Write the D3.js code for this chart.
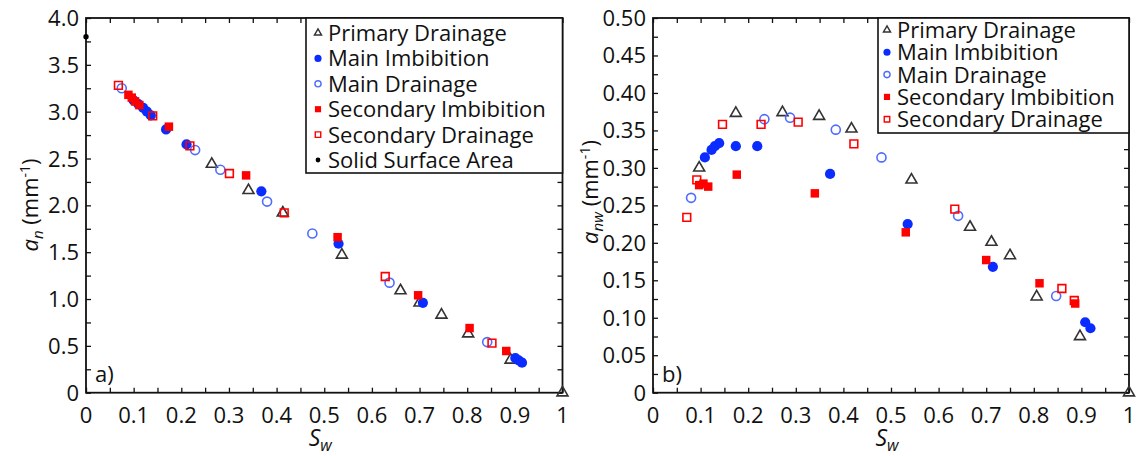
<!DOCTYPE html>
<html>
<head>
<meta charset="utf-8">
<script src="https://cdn.jsdelivr.net/npm/d3@7"></script>
<style>
  body { margin: 0; background: #fff; }
  text { font-family: "Open Sans", "Noto Sans", sans-serif; fill: #111; }
</style>
</head>
<body>
<div id="chart-area"></div>
<script>
// values, [Sw, value]
const primaryDrainageA = [[0.264, 2.44], [0.341, 2.16], [0.413, 1.92], [0.537, 1.47], [0.660, 1.09],
    [0.700, 0.96], [0.746, 0.83], [0.802, 0.63], [0.891, 0.35], [1.0, 0.0]];
const mainImbibitionA = [[0.100, 3.12], [0.110, 3.08], [0.120, 3.04], [0.128, 3.00], [0.136, 2.96],
    [0.168, 2.81], [0.211, 2.65], [0.368, 2.15], [0.530, 1.59], [0.707, 0.96],
    [0.901, 0.37], [0.908, 0.345], [0.915, 0.32]];
const mainDrainageA = [[0.075, 3.25], [0.229, 2.59], [0.282, 2.38], [0.380, 2.04], [0.475, 1.70],
    [0.637, 1.175], [0.842, 0.54]];
const secondaryImbibitionA = [[0.089, 3.18], [0.096, 3.15], [0.103, 3.11], [0.112, 3.07], [0.174, 2.84],
    [0.336, 2.32], [0.528, 1.66], [0.697, 1.04], [0.805, 0.69], [0.882, 0.445]];
const secondaryDrainageA = [[0.068, 3.28], [0.140, 2.955], [0.218, 2.635], [0.301, 2.34], [0.416, 1.92],
    [0.628, 1.24], [0.852, 0.53]];
const solidSurfaceA = [[0.0, 3.80]];

const primaryDrainageB = [[0.097, 0.300], [0.174, 0.373], [0.272, 0.374], [0.349, 0.369], [0.417, 0.352],
    [0.543, 0.284], [0.666, 0.221], [0.711, 0.201], [0.750, 0.183], [0.806, 0.128],
    [0.897, 0.075], [1.0, 0.0]];
const mainImbibitionB = [[0.109, 0.314], [0.123, 0.324], [0.130, 0.329], [0.139, 0.333], [0.174, 0.329],
    [0.219, 0.329], [0.372, 0.292], [0.535, 0.225], [0.714, 0.168], [0.908, 0.094], [0.919, 0.086]];
const mainDrainageB = [[0.080, 0.260], [0.234, 0.365], [0.288, 0.367], [0.384, 0.351], [0.480, 0.314],
    [0.641, 0.236], [0.847, 0.129]];
const secondaryImbibitionB = [[0.097, 0.277], [0.106, 0.279], [0.116, 0.275], [0.176, 0.291], [0.340, 0.266],
    [0.531, 0.214], [0.700, 0.177], [0.812, 0.146], [0.887, 0.119]];
const secondaryDrainageB = [[0.071, 0.234], [0.092, 0.284], [0.146, 0.358], [0.227, 0.358], [0.305, 0.361],
    [0.422, 0.332], [0.634, 0.245], [0.859, 0.139], [0.885, 0.123]];

const xTickLabels = ["0", "0.1", "0.2", "0.3", "0.4", "0.5", "0.6", "0.7", "0.8", "0.9", "1"];
const yTickLabelsA = ["0", "0.5", "1.0", "1.5", "2.0", "2.5", "3.0", "3.5", "4.0"];
const yTickLabelsB = ["0", "0.05", "0.10", "0.15", "0.20", "0.25", "0.30", "0.35", "0.40", "0.45", "0.50"];

const red = "#ff0000";
const blue = "#0a2cff";
const lightBlue = "#4f6cff";
const grey = "#333";

// marker styles per series
const styles = {
    primary:   { name: "Primary Drainage",     shape: d3.symbolTriangle, size: 52, legendSize: 22, fill: "none", stroke: grey },
    mainImb:   { name: "Main Imbibition",      shape: d3.symbolCircle,   size: 82, legendSize: 40, fill: blue, stroke: "none" },
    mainDrn:   { name: "Main Drainage",        shape: d3.symbolCircle,   size: 64, legendSize: 30, fill: "none", stroke: lightBlue },
    secImb:    { name: "Secondary Imbibition", shape: d3.symbolSquare,   size: 72, legendSize: 38, fill: red, stroke: "none" },
    secDrn:    { name: "Secondary Drainage",   shape: d3.symbolSquare,   size: 60, legendSize: 30, fill: "none", stroke: red },
    solid:     { name: "Solid Surface Area",   shape: d3.symbolCircle,   size: 22, legendSize: 18, fill: "#000", stroke: "none" }
};

const fontSize = 22;
const width = 1137, height = 456;
const svg = d3.select("#chart-area").append("svg")
    .attr("width", width)
    .attr("height", height);

const panelTop = 18, panelBottom = 392.7;

function drawPanel(cfg) {
    const x = d3.scaleLinear().domain([0, 1]).range([cfg.left, cfg.right]);
    const y = d3.scaleLinear().domain([0, cfg.yMax]).range([panelBottom, panelTop]);
    const g = svg.append("g");

    // ticks on all four sides, pointing inwards
    const xMinor = d3.range(0, 1.0001, 0.05);
    const yMinor = d3.range(0, cfg.yMax * 1.0001, cfg.yMinorStep);
    g.append("g").attr("transform", `translate(0,${panelBottom})`)
        .call(d3.axisBottom(x).tickValues(xMinor).tickSize(-5).tickFormat(""));
    g.append("g").attr("transform", `translate(0,${panelTop})`)
        .call(d3.axisTop(x).tickValues(xMinor).tickSize(-5).tickFormat(""));
    g.append("g").attr("transform", `translate(${cfg.left},0)`)
        .call(d3.axisLeft(y).tickValues(yMinor).tickSize(-5).tickFormat(""));
    g.append("g").attr("transform", `translate(${cfg.right},0)`)
        .call(d3.axisRight(y).tickValues(yMinor).tickSize(-5).tickFormat(""));
    g.selectAll(".domain").remove();
    g.selectAll(".tick line").attr("stroke", "#111").attr("stroke-width", 1.3);

    g.append("rect")
        .attr("x", cfg.left).attr("y", panelTop)
        .attr("width", cfg.right - cfg.left).attr("height", panelBottom - panelTop)
        .attr("fill", "none").attr("stroke", "#111").attr("stroke-width", 1.8);

    // tick labels
    g.selectAll(".xlab").data(xTickLabels).enter().append("text")
        .attr("x", d => x(+d)).attr("y", 423)
        .attr("text-anchor", "middle").attr("font-size", fontSize)
        .text(d => d);
    g.selectAll(".ylab").data(cfg.yLabels).enter().append("text")
        .attr("x", cfg.left - 7).attr("y", d => y(+d) + 8)
        .attr("text-anchor", "end").attr("font-size", fontSize)
        .text(d => d);

    // axis titles
    const xt = g.append("text").attr("x", x(0.5) - 4).attr("y", 446)
        .attr("text-anchor", "middle").attr("font-size", 23);
    xt.append("tspan").attr("font-style", "italic").text("S");
    xt.append("tspan").attr("font-style", "italic").attr("font-size", 16).attr("dy", 5).text("w");

    const yt = g.append("text")
        .attr("transform", `translate(${cfg.titleX},${cfg.titleY}) rotate(-90)`)
        .attr("text-anchor", "middle").attr("font-size", fontSize);
    yt.append("tspan").attr("font-style", "italic").text("a");
    yt.append("tspan").attr("font-style", "italic").attr("font-size", 15).attr("dy", 5).text(cfg.sub);
    yt.append("tspan").attr("dy", -5).text(" (mm");
    yt.append("tspan").attr("font-size", 14).attr("dy", -8).text("-1");
    yt.append("tspan").attr("dy", 8).text(")");

    g.append("text").attr("x", cfg.left + 9).attr("y", 382)
        .attr("font-size", fontSize).text(cfg.tag);

    // markers
    cfg.series.forEach(s => {
        const st = styles[s.key];
        g.append("g").selectAll("path").data(s.data).enter().append("path")
            .attr("transform", d => `translate(${x(d[0])},${y(d[1])})`)
            .attr("d", d3.symbol().type(st.shape).size(st.size))
            .attr("fill", st.fill)
            .attr("stroke", st.stroke)
            .attr("stroke-width", 1.6);
    });

    // legend
    const lg = g.append("g");
    lg.append("rect")
        .attr("x", cfg.legend.x).attr("y", panelTop)
        .attr("width", cfg.right - cfg.legend.x).attr("height", cfg.legend.h)
        .attr("fill", "#fff").attr("stroke", "#111").attr("stroke-width", 1.6);
    cfg.legend.keys.forEach((k, i) => {
        const st = styles[k];
        const cy = panelTop + cfg.legend.first + i * cfg.legend.step;
        lg.append("path")
            .attr("transform", `translate(${cfg.legend.x + cfg.legend.mark},${cy})`)
            .attr("d", d3.symbol().type(st.shape).size(st.legendSize))
            .attr("fill", st.fill).attr("stroke", st.stroke).attr("stroke-width", 1.4);
        lg.append("text")
            .attr("x", cfg.legend.x + cfg.legend.mark + 10).attr("y", cy + 8)
            .attr("font-size", fontSize).text(st.name);
    });
}

drawPanel({
    left: 86, right: 562.5, yMax: 4, yMinorStep: 0.25, yLabels: yTickLabelsA,
    titleX: 38, titleY: 205, sub: "n", tag: "a)",
    series: [
        { key: "primary", data: primaryDrainageA },
        { key: "mainImb", data: mainImbibitionA },
        { key: "mainDrn", data: mainDrainageA },
        { key: "secImb", data: secondaryImbibitionA },
        { key: "secDrn", data: secondaryDrainageA },
        { key: "solid", data: solidSurfaceA }
    ],
    legend: { x: 306, h: 155, first: 15, step: 25.4, mark: 12,
        keys: ["primary", "mainImb", "mainDrn", "secImb", "secDrn", "solid"] }
});

drawPanel({
    left: 653, right: 1129, yMax: 0.5, yMinorStep: 0.025, yLabels: yTickLabelsB,
    titleX: 598, titleY: 192, sub: "nw", tag: "b)",
    series: [
        { key: "primary", data: primaryDrainageB },
        { key: "mainImb", data: mainImbibitionB },
        { key: "mainDrn", data: mainDrainageB },
        { key: "secImb", data: secondaryImbibitionB },
        { key: "secDrn", data: secondaryDrainageB }
    ],
    legend: { x: 878, h: 115, first: 12, step: 22.3, mark: 9,
        keys: ["primary", "mainImb", "mainDrn", "secImb", "secDrn"] }
});
</script>
</body>
</html>
